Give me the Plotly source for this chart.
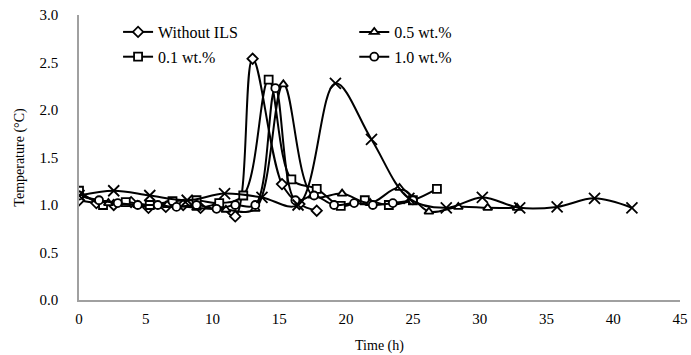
import plotly.graph_objects as go

# ---- data ----
x_without = [0, 1.3, 2.6, 3.9, 5.2, 6.5, 7.8, 9.1, 10.4, 11.7, 13.0, 15.2, 16.5, 17.8]
y_without = [1.05, 1.02, 1.0, 1.03, 0.97, 0.98, 1.0, 0.97, 1.0, 0.88, 2.54, 1.22, 1.01, 0.94]

x_01 = [0, 1.8, 3.5, 5.3, 7.0, 8.8, 10.5, 12.3, 14.2, 15.9, 17.8, 19.6, 21.4, 23.2, 25.0, 26.8]
y_01 = [1.15, 1.0, 1.03, 1.0, 1.04, 1.05, 1.02, 1.10, 2.32, 1.27, 1.17, 0.99, 1.05, 1.0, 1.05, 1.17]

x_05 = [0, 2.2, 4.4, 6.6, 8.8, 11.0, 13.2, 15.3, 17.5, 19.7, 21.8, 24.0, 26.2, 28.4, 30.6, 32.8]
y_05 = [1.1, 1.02, 1.0, 1.0, 0.97, 0.95, 0.96, 2.27, 1.1, 1.12, 1.02, 1.18, 0.93, 0.98, 0.97, 0.97]

x_10 = [0, 1.5, 2.9, 4.4, 5.9, 7.3, 8.8, 10.3, 11.7, 13.2, 14.7, 16.2, 17.6, 19.1, 20.6, 22.0, 23.5, 25.0]
y_10 = [1.1, 1.05, 1.02, 1.0, 1.0, 0.98, 1.0, 0.96, 1.0, 1.0, 2.23, 1.05, 1.1, 1.0, 1.02, 1.0, 1.02, 1.05]

x_15 = [0, 2.6, 5.3, 8.1, 10.9, 13.7, 16.4, 19.2, 21.9, 24.7, 27.5, 30.2, 33.0, 35.8, 38.6, 41.4]
y_15 = [1.1, 1.15, 1.1, 1.05, 1.12, 1.08, 1.0, 2.28, 1.69, 1.07, 0.97, 1.08, 0.97, 0.98, 1.07, 0.97]

x_ticks = [0, 5, 10, 15, 20, 25, 30, 35, 40, 45]
y_ticks = [0.0, 0.5, 1.0, 1.5, 2.0, 2.5, 3.0]

FONT = "Liberation Serif, Times New Roman, serif"

fig = go.Figure()

def add(x, y, name, symbol, legend, showlegend=True, size=8):
    fig.add_trace(go.Scatter(
        x=x, y=y, name=name, mode="lines+markers",
        line=dict(color="black", width=2, shape="spline", smoothing=1.0),
        marker=dict(symbol=symbol, size=size, color="white",
                    line=dict(color="black", width=1.8)),
        legend=legend, legendgroup=name, showlegend=showlegend,
    ))

add(x_without, y_without, "Without ILS", "diamond", "legend")
add(x_01, y_01, "0.1 wt.%", "square", "legend")
add(x_05, y_05, "0.5 wt.%", "triangle-up", "legend2")
add(x_10, y_10, "1.0 wt.%", "circle", "legend2")
add(x_15, y_15, "1.5 wt.%", "x-thin", "legend", showlegend=False, size=11)

leg_common = dict(font=dict(family=FONT, size=16, color="black"),
                  bgcolor="rgba(0,0,0,0)", tracegroupgap=1,
                  xanchor="left", yanchor="top")

fig.update_layout(
    width=691, height=355,
    margin=dict(l=79, r=11, t=15, b=55),
    paper_bgcolor="white", plot_bgcolor="white",
    font=dict(family=FONT, size=15, color="black"),
    legend=dict(x=0.065, y=1.0, **leg_common),
    legend2=dict(x=0.458, y=1.0, **leg_common),
    xaxis=dict(range=[0, 45], tickvals=x_ticks, showgrid=False, zeroline=False,
               showline=True, linecolor="#a0a0a0", linewidth=1.5,
               ticks="", ticklabelstandoff=4, automargin=False,
               title=dict(text="Time (h)", font=dict(family=FONT, size=14), standoff=14)),
    yaxis=dict(range=[0, 3.0], tickvals=y_ticks, tickformat=".1f", showgrid=False,
               zeroline=False, showline=True, linecolor="#a0a0a0", linewidth=1.5,
               ticks="", ticklabelstandoff=16, automargin=False,
               title=dict(text="Temperature (°C)", font=dict(family=FONT, size=14), standoff=12)),
)

fig.write_html("out.html", config={"displayModeBar": False},
               post_script="document.body.style.margin='0px';")
